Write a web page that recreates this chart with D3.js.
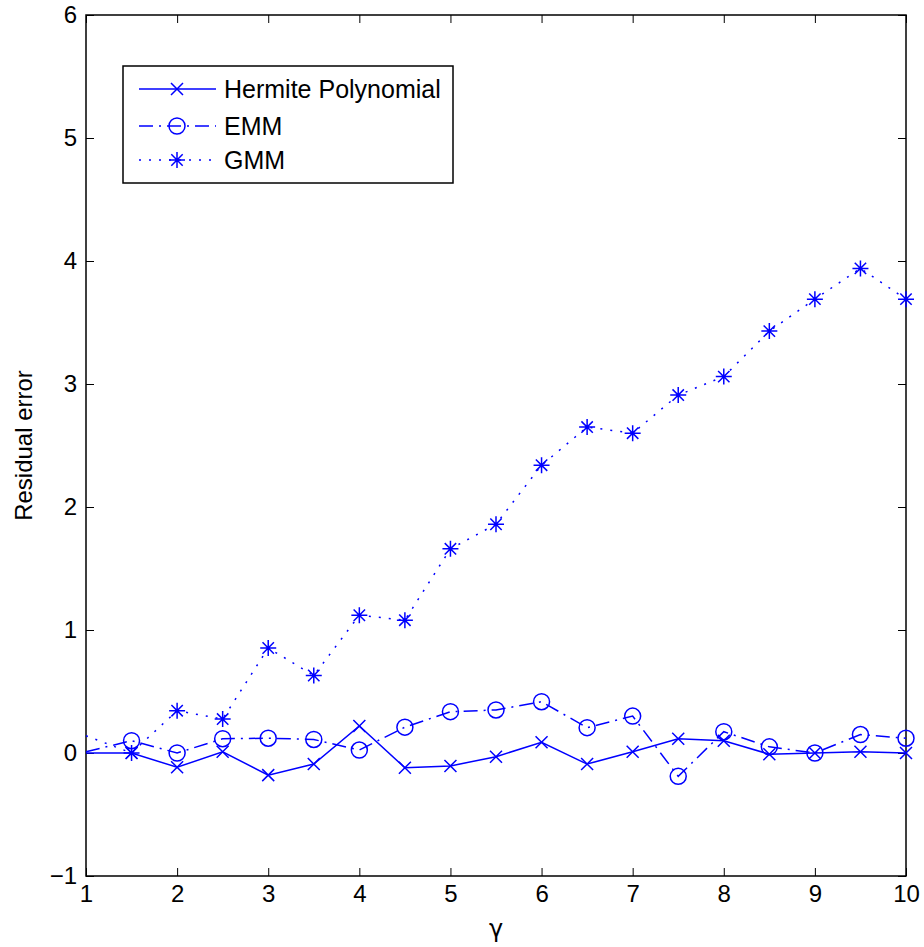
<!DOCTYPE html>
<html><head><meta charset="utf-8">
<script src="https://cdn.jsdelivr.net/npm/d3@7"></script>
<style>body{margin:0;background:#fff}svg{display:block;font-family:"Liberation Sans",Arial,sans-serif}</style>
</head><body><svg id="c" width="924" height="947"></svg>
<script>
const gamma = [1,1.5,2,2.5,3,3.5,4,4.5,5,5.5,6,6.5,7,7.5,8,8.5,9,9.5,10];
const hermite = [0.0,0.0,-0.116,0.01,-0.18,-0.09,0.22,-0.12,-0.105,-0.03,0.087,-0.09,0.01,0.116,0.1,-0.01,0.0,0.01,0.0];
const emm = [0.01,0.1,0.0,0.116,0.12,0.11,0.024,0.21,0.336,0.35,0.417,0.206,0.30,-0.19,0.173,0.05,0.0,0.15,0.12];
const gmm = [0.14,0.0,0.344,0.276,0.854,0.63,1.12,1.08,1.66,1.86,2.34,2.65,2.60,2.91,3.06,3.43,3.69,3.94,3.69];
const xTicks = [1,2,3,4,5,6,7,8,9,10];
const yTicks = [-1,0,1,2,3,4,5,6];
const seriesNames = ["Hermite Polynomial","EMM","GMM"];

const svg = d3.select("#c");
const L=86,R=906,T=15,B=876;
const x = d3.scaleLinear().domain([1,10]).range([L,R]);
const y = d3.scaleLinear().domain([-1,6]).range([B,T]);
const blue="#0000ff";
const FF='"Liberation Sans",Arial,sans-serif';

svg.append("rect").attr("x",L).attr("y",T).attr("width",R-L).attr("height",B-T)
  .attr("fill","none").attr("stroke","#000").attr("stroke-width",1.5);

const tl=8;
const axB = svg.append("g").attr("transform",`translate(0,${B})`)
  .call(d3.axisBottom(x).tickValues(xTicks).tickSize(-tl).tickPadding(9).tickFormat(d3.format("d")));
const axT = svg.append("g").attr("transform",`translate(0,${T})`)
  .call(d3.axisTop(x).tickValues(xTicks).tickSize(-tl).tickFormat(""));
const axL = svg.append("g").attr("transform",`translate(${L},0)`)
  .call(d3.axisLeft(y).tickValues(yTicks).tickSize(-tl).tickPadding(9).tickFormat(d=>d<0?"\u2212"+Math.abs(d):d));
const axR = svg.append("g").attr("transform",`translate(${R},0)`)
  .call(d3.axisRight(y).tickValues(yTicks).tickSize(-tl).tickFormat(""));
[axB,axT,axL,axR].forEach(a=>{
  a.attr("font-size",null).attr("font-family",null);
  a.select(".domain").remove();
  a.selectAll(".tick line").attr("stroke","#000").attr("stroke-width",1);
  a.selectAll("text").style("font-size","24px").attr("fill","#000").style("font-family",FF);
});
axB.selectAll("text").attr("dy","0.71em");

svg.append("text").attr("x",(L+R)/2).attr("y",937).attr("text-anchor","middle")
  .style("font-size","24px").style("font-family","'DejaVu Sans',sans-serif").text("γ");
svg.append("text").attr("transform",`translate(32,${(T+B)/2}) rotate(-90)`).attr("text-anchor","middle")
  .style("font-size","24px").style("font-family",FF).text("Residual error");

const line = d3.line().x(d=>x(d[0])).y(d=>y(d[1]));
const sets = [hermite,emm,gmm].map(s=>gamma.map((g,i)=>[g,s[i]]));
const dashes = [null,"14,6,2,6","2,8"];

function marker(g,type,cx,cy){
  if(type===0){
    const s=6;
    g.append("path").attr("d",`M${cx-s},${cy-s}L${cx+s},${cy+s}M${cx-s},${cy+s}L${cx+s},${cy-s}`)
      .attr("stroke",blue).attr("stroke-width",1.5).attr("fill","none");
  } else if(type===1){
    g.append("circle").attr("cx",cx).attr("cy",cy).attr("r",8).attr("stroke",blue).attr("stroke-width",1.5).attr("fill","none");
  } else {
    const s=8, d=5.7;
    g.append("path").attr("d",`M${cx},${cy-s}L${cx},${cy+s}M${cx-s},${cy}L${cx+s},${cy}M${cx-d},${cy-d}L${cx+d},${cy+d}M${cx-d},${cy+d}L${cx+d},${cy-d}`)
      .attr("stroke",blue).attr("stroke-width",1.5).attr("fill","none");
  }
}

sets.forEach((data,k)=>{
  const p = svg.append("path").datum(data).attr("d",line).attr("fill","none")
    .attr("stroke",blue).attr("stroke-width",1.5);
  if(dashes[k]) p.attr("stroke-dasharray",dashes[k]);
  const g = svg.append("g");
  data.filter(d=>d[0]>x.domain()[0]).forEach(d=>marker(g,k,x(d[0]),y(d[1])));
});

const lg = svg.append("g");
lg.append("rect").attr("x",123).attr("y",66).attr("width",330).attr("height",117)
  .attr("fill","#fff").attr("stroke","#000").attr("stroke-width",1.5);
const rowsY=[89,126,160];
seriesNames.forEach((n,k)=>{
  const ln = lg.append("line").attr("x1",139).attr("x2",216).attr("y1",rowsY[k]).attr("y2",rowsY[k])
    .attr("stroke",blue).attr("stroke-width",1.5);
  if(dashes[k]) ln.attr("stroke-dasharray",dashes[k]);
  marker(lg,k,177,rowsY[k]);
  lg.append("text").attr("x",224).attr("y",rowsY[k]).attr("dy","0.36em")
    .style("font-size","25px").style("font-family",FF).text(n);
});
</script></body></html>
